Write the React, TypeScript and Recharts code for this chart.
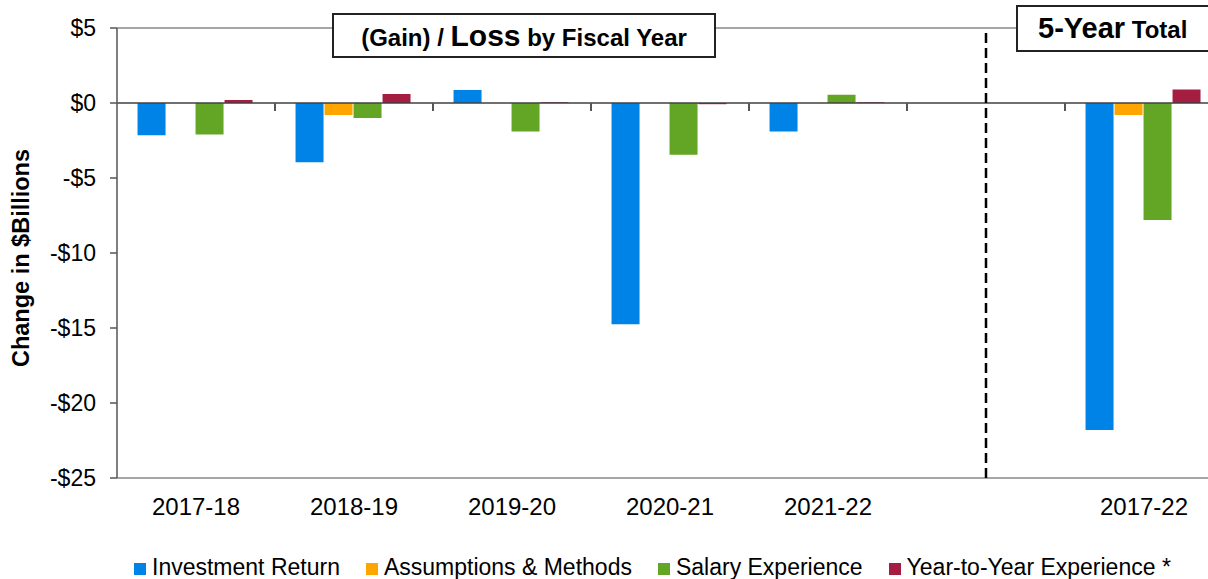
import React from 'react';
import { BarChart, Bar, XAxis, YAxis, ReferenceLine } from 'recharts';

const years = ['2017-18', '2018-19', '2019-20', '2020-21', '2021-22', ' ', '2017-22'];
const investmentReturn = [-2.15, -3.95, 0.87, -14.75, -1.9, null, -21.8];
const assumptionsMethods = [0, -0.8, 0, 0, 0, null, -0.8];
const salaryExperience = [-2.1, -1.0, -1.9, -3.45, 0.55, null, -7.8];
const yearToYear = [0.2, 0.6, 0.05, -0.08, 0.05, null, 0.9];
const yTicks = [5, 0, -5, -10, -15, -20, -25];
const yDomain = [-25, 5];

const series = [
  { key: 'inv', name: 'Investment Return', color: '#0083E6', values: investmentReturn },
  { key: 'asm', name: 'Assumptions & Methods', color: '#FFA500', values: assumptionsMethods },
  { key: 'sal', name: 'Salary Experience', color: '#63A524', values: salaryExperience },
  { key: 'yty', name: 'Year-to-Year Experience *', color: '#A51E41', values: yearToYear },
];

const data = years.map((year, i) => {
  const row: Record<string, any> = { year };
  series.forEach((s) => (row[s.key] = s.values[i]));
  return row;
});

const FONT = '"Liberation Sans", Arial, sans-serif';

// layout
const CHART_W = 1240;
const CHART_H = 579;
const MARGIN = { top: 28, right: 17, bottom: 41, left: 0 };
const Y_AXIS_W = 117;
const X_AXIS_H = 60;
const PLOT_W = CHART_W - MARGIN.left - MARGIN.right - Y_AXIS_W;
const PLOT_H = CHART_H - MARGIN.top - MARGIN.bottom - X_AXIS_H;
const ZERO_Y = MARGIN.top + (PLOT_H * yDomain[1]) / (yDomain[1] - yDomain[0]);
const BAND = PLOT_W / years.length;

const fmt = (v: number) => (v < 0 ? `-$${-v}` : `$${v}`);

const YLabel = (props: any) => {
  const vb = props.viewBox || {};
  const cx = 21;
  const cy = (vb.y || 0) + (vb.height || 0) / 2 + 5;
  return (
    <text
      x={cx}
      y={cy}
      transform={`rotate(-90 ${cx} ${cy})`}
      textAnchor="middle"
      dominantBaseline="central"
      fontFamily={FONT}
      fontWeight="bold"
      fontSize={23.5}
      fill="#000"
    >
      Change in $Billions
    </text>
  );
};

export default function App() {
  return (
    <div
      style={{
        position: 'absolute',
        left: 0,
        top: 0,
        width: 1208,
        height: 579,
        overflow: 'hidden',
        background: '#fff',
        fontFamily: FONT,
      }}
    >
      <BarChart
        width={CHART_W}
        height={CHART_H}
        data={data}
        margin={MARGIN}
        barCategoryGap="13%"
        barGap={1}
      >
        <XAxis
          dataKey="year"
          height={X_AXIS_H}
          axisLine={false}
          tickLine={false}
          tickMargin={14}
          interval={0}
          tick={{ fontSize: 24, fill: '#000', fontFamily: FONT }}
        />
        <YAxis
          width={Y_AXIS_W}
          domain={yDomain}
          ticks={yTicks}
          interval={0}
          tickFormatter={fmt}
          tickSize={7}
          tickMargin={14}
          axisLine={{ stroke: '#555', strokeWidth: 1.5 }}
          tickLine={{ stroke: '#555', strokeWidth: 1.5 }}
          tick={{ fontSize: 23, fill: '#000', fontFamily: FONT }}
          label={<YLabel />}
        />
        <ReferenceLine y={5} stroke="#888" strokeWidth={1.5} />
        <ReferenceLine y={-25} stroke="#888" strokeWidth={1.5} />
        {series.map((s) => (
          <Bar key={s.key} dataKey={s.key} name={s.name} fill={s.color} isAnimationActive={false} />
        ))}
        <ReferenceLine y={0} stroke="#404040" strokeWidth={1.5} />
        <ReferenceLine x=" " stroke="#000" strokeWidth={2.5} strokeDasharray="10 5" />
      </BarChart>

      {/* tick marks below the zero line between categories */}
      {years.slice(1).map((y, i) => (
        <div
          key={'tick' + i}
          style={{
            position: 'absolute',
            left: MARGIN.left + Y_AXIS_W + (i + 1) * BAND - 0.75,
            top: ZERO_Y,
            width: 1.5,
            height: 8,
            background: '#555',
          }}
        />
      ))}

      <div
        style={{
          position: 'absolute',
          left: 332,
          top: 13,
          width: 384,
          height: 45,
          boxSizing: 'border-box',
          border: '2px solid #222',
          background: '#fff',
          display: 'flex',
          alignItems: 'center',
          justifyContent: 'center',
          fontWeight: 'bold',
          fontSize: 24,
          whiteSpace: 'nowrap',
        }}
      >
        <span>
          (Gain) / <span style={{ fontSize: 30 }}>Loss</span> by Fiscal Year
        </span>
      </div>

      <div
        style={{
          position: 'absolute',
          left: 1016,
          top: 5,
          width: 200,
          height: 47,
          boxSizing: 'border-box',
          border: '2px solid #222',
          background: '#fff',
          display: 'flex',
          alignItems: 'center',
          paddingLeft: 20,
          fontWeight: 'bold',
          fontSize: 24,
          whiteSpace: 'nowrap',
        }}
      >
        <span>
          <span style={{ fontSize: 29 }}>5-Year</span> Total
        </span>
      </div>

      <div
        style={{
          position: 'absolute',
          left: 134,
          top: 552,
          height: 30,
          display: 'flex',
          alignItems: 'center',
          fontSize: 23,
          color: '#000',
          whiteSpace: 'nowrap',
        }}
      >
        {series.map((s) => (
          <div key={s.key} style={{ display: 'flex', alignItems: 'center', marginRight: 26 }}>
            <div style={{ width: 12, height: 12, background: s.color, marginRight: 6, marginTop: 4 }} />
            <span>{s.name}</span>
          </div>
        ))}
      </div>
    </div>
  );
}
